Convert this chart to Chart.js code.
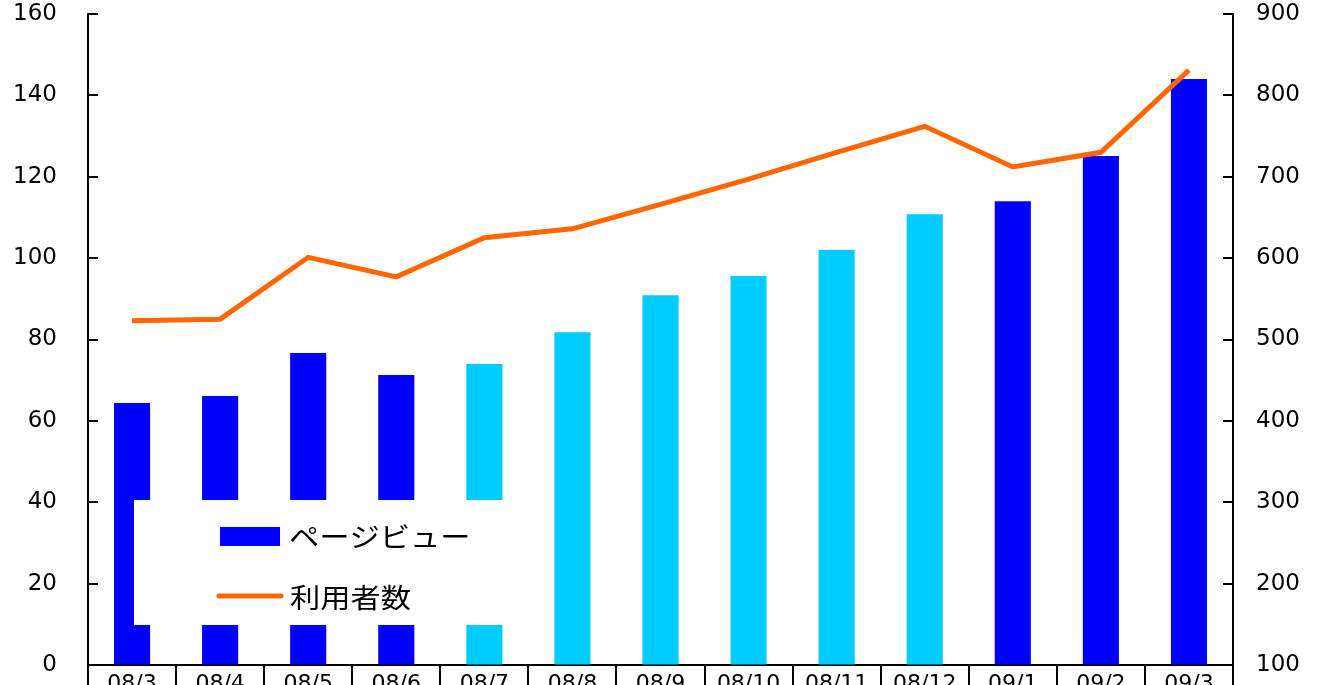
<!DOCTYPE html>
<html>
<head>
<meta charset="utf-8">
<script src="https://cdn.jsdelivr.net/npm/chart.js@4"></script>
<style>
  body { margin: 0; background: #fff; }
  #wrap { width: 1334px; height: 685px; }
</style>
</head>
<body>
<div id="wrap"><canvas id="grafico"></canvas></div>
<script>
// dados
const meses = ['08/3', '08/4', '08/5', '08/6', '08/7', '08/8', '08/9', '08/10', '08/11', '08/12', '09/1', '09/2', '09/3']
const pageViews = [64.4, 66.1, 76.7, 71.3, 74.0, 81.8, 90.9, 95.6, 102.0, 110.8, 114.0, 125.1, 144.0]
const usuarios = [523, 525, 601, 577, 625, 636, 666, 697, 730, 762, 712, 730, 831]
const corBarra = ['#0000FF', '#0000FF', '#0000FF', '#0000FF', '#00CCFF', '#00CCFF', '#00CCFF', '#00CCFF', '#00CCFF', '#00CCFF', '#0000FF', '#0000FF', '#0000FF']

const fonteNum = '"DejaVu Sans", sans-serif'
const fonteJp = '"Noto Sans CJK JP", sans-serif'

// ticks para dentro nos dois eixos y
const ticksInternos = {
  id: 'ticksInternos',
  afterDraw(chart) {
    const ctx = chart.ctx
    const area = chart.chartArea
    ctx.save()
    ctx.strokeStyle = '#000'
    ctx.lineWidth = 2
    const esq = chart.scales.y
    esq.ticks.forEach(t => {
      const py = Math.round(esq.getPixelForValue(t.value))
      ctx.beginPath()
      ctx.moveTo(area.left, py)
      ctx.lineTo(area.left + 10, py)
      ctx.stroke()
    })
    const dir = chart.scales.y1
    dir.ticks.forEach(t => {
      const py = Math.round(dir.getPixelForValue(t.value))
      ctx.beginPath()
      ctx.moveTo(area.right, py)
      ctx.lineTo(area.right - 10, py)
      ctx.stroke()
    })
    ctx.restore()
  }
}

// texto um pouco esticado na horizontal, como no original
function textoLargo(ctx, txt, x, y) {
  ctx.save()
  ctx.translate(x, y)
  ctx.scale(1.12, 1)
  ctx.fillText(txt, 0, 0)
  ctx.restore()
}

// legenda dentro da área, com fundo branco
const legendaCaixa = {
  id: 'legendaCaixa',
  afterDatasetsDraw(chart) {
    const ctx = chart.ctx
    const barras = chart.data.datasets.find(d => d.type === 'bar')
    const linha = chart.data.datasets.find(d => d.type === 'line')
    ctx.save()
    ctx.fillStyle = '#fff'
    ctx.fillRect(134, 500, 386, 125)

    ctx.fillStyle = '#0000FF'
    ctx.fillRect(220, 527, 60, 19)
    ctx.strokeStyle = linha.borderColor
    ctx.lineWidth = 5
    ctx.lineCap = 'round'
    ctx.beginPath()
    ctx.moveTo(219, 596)
    ctx.lineTo(281, 596)
    ctx.stroke()

    ctx.fillStyle = '#000'
    ctx.font = '27px ' + fonteJp
    ctx.textBaseline = 'middle'
    textoLargo(ctx, barras.label, 289, 537)
    textoLargo(ctx, linha.label, 290, 598)
    ctx.restore()
  }
}

const config = {
  data: {
    labels: meses,
    datasets: [{
      type: 'line',
      label: '利用者数',
      data: usuarios,
      yAxisID: 'y1',
      borderColor: '#FF6600',
      borderWidth: 5,
      pointRadius: 0,
      tension: 0,
      fill: false,
      order: 0
    }, {
      type: 'bar',
      label: 'ページビュー',
      data: pageViews,
      yAxisID: 'y',
      backgroundColor: corBarra,
      barPercentage: 0.41,
      categoryPercentage: 1,
      order: 1
    }]
  },
  options: {
    responsive: true,
    maintainAspectRatio: false,
    animation: false,
    layout: { padding: { top: 14, left: 0, right: 0, bottom: 0 } },
    plugins: {
      legend: { display: false },
      tooltip: { enabled: false }
    },
    scales: {
      x: {
        offset: true,
        afterFit(scale) { scale.height = 20 },
        grid: {
          offset: true,
          drawOnChartArea: false,
          tickLength: 22,
          color: '#000',
          lineWidth: 2
        },
        border: { color: '#000', width: 2 },
        ticks: {
          color: '#000',
          padding: -16,
          maxRotation: 0,
          autoSkip: false,
          font: { family: fonteNum, size: 22 }
        }
      },
      y: {
        position: 'left',
        min: 0,
        max: 160,
        afterFit(scale) { scale.width = 88 },
        // tick invisível só para afastar o texto do eixo
        grid: { drawOnChartArea: false, tickLength: 31, tickColor: 'rgba(0,0,0,0)' },
        border: { color: '#000', width: 2 },
        ticks: {
          stepSize: 20,
          color: '#000',
          padding: 0,
          font: { family: fonteNum, size: 23 }
        }
      },
      y1: {
        position: 'right',
        min: 100,
        max: 900,
        afterFit(scale) { scale.width = 101 },
        grid: { drawOnChartArea: false, tickLength: 23, tickColor: 'rgba(0,0,0,0)' },
        border: { color: '#000', width: 2 },
        ticks: {
          stepSize: 100,
          color: '#000',
          padding: 0,
          font: { family: fonteNum, size: 23 }
        }
      }
    }
  },
  plugins: [ticksInternos, legendaCaixa]
}

const grafico = new Chart(document.getElementById('grafico'), config)
</script>
</body>
</html>
